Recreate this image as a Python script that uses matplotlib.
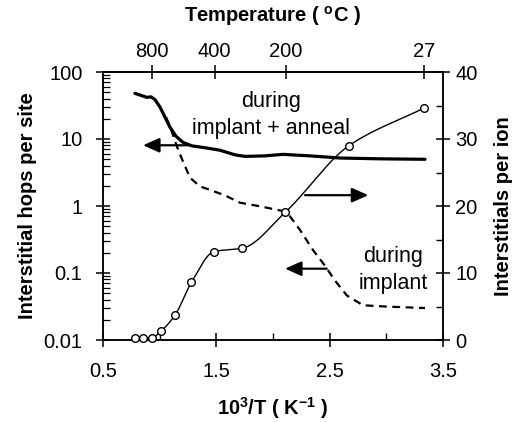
import numpy as np
import matplotlib
matplotlib.use("Agg")
import matplotlib.pyplot as plt
from matplotlib.ticker import FixedLocator, NullFormatter, LogLocator

plt.rcParams['font.family'] = ['Liberation Sans', 'DejaVu Sans']
plt.rcParams['mathtext.fontset'] = 'custom'
plt.rcParams['mathtext.rm'] = 'Liberation Sans'
plt.rcParams['mathtext.bf'] = 'Liberation Sans:bold'
plt.rcParams['mathtext.it'] = 'Liberation Sans:italic'

# ---- data ----
# interstitial hops per site, during implant + anneal (solid, left log axis)
anneal_x = [0.782, 0.888, 0.924, 0.959, 1.003, 1.047, 1.091, 1.144, 1.206, 1.285,
            1.40, 1.532, 1.665, 1.753, 1.929, 2.088, 2.327, 2.591, 2.944, 3.341]
anneal_y = [48, 41.8, 42.6, 38.7, 29.9, 21.2, 15.0, 11.0, 8.9, 7.9,
            7.4, 6.8, 5.8, 5.5, 5.6, 5.9, 5.6, 5.2, 5.06, 4.98]

# interstitial hops per site, during implant only (dashed, left log axis)
implant_x = [1.056, 1.10, 1.15, 1.197, 1.268, 1.356, 1.444, 1.576, 1.709, 1.885,
             2.088, 2.15, 2.238, 2.353, 2.459, 2.547, 2.653, 2.794, 3.006, 3.341]
implant_y = [21.2, 14.0, 7.9, 5.0, 2.64, 1.96, 1.74, 1.44, 1.12, 0.99,
             0.84, 0.70, 0.44, 0.22, 0.128, 0.077, 0.046, 0.033, 0.0315, 0.030]

# interstitials per ion (open circles, right axis)
ion_x = [0.78, 0.85, 0.93, 1.01, 1.135, 1.28, 1.48, 1.73, 2.11, 2.67, 3.33]
ion_y = [0.3, 0.3, 0.3, 1.3, 3.7, 8.6, 13.2, 13.7, 19.1, 29.0, 34.6]

# top axis temperatures (deg C)
top_temps = [800, 400, 200, 27]
top_labels = ['800', '400', '200', '27']

bottom_ticks = [0.5, 1.5, 2.5, 3.5]
bottom_labels = ['0.5', '1.5', '2.5', '3.5']
left_ticks = [0.01, 0.1, 1, 10, 100]
left_labels = ['0.01', '0.1', '1', '10', '100']
right_ticks = [0, 10, 20, 30, 40]
right_labels = ['0', '10', '20', '30', '40']


def pchip(x, y, xn):
    x = np.asarray(x, float); y = np.asarray(y, float)
    h = np.diff(x); d = np.diff(y) / h
    m = np.zeros_like(y)
    for k in range(1, len(x) - 1):
        if d[k - 1] * d[k] > 0:
            w1 = 2 * h[k] + h[k - 1]; w2 = h[k] + 2 * h[k - 1]
            m[k] = (w1 + w2) / (w1 / d[k - 1] + w2 / d[k])
    m[0] = d[0]; m[-1] = d[-1]
    idx = np.clip(np.searchsorted(x, xn) - 1, 0, len(x) - 2)
    t = (xn - x[idx]) / h[idx]
    h00 = 2 * t**3 - 3 * t**2 + 1; h10 = t**3 - 2 * t**2 + t
    h01 = -2 * t**3 + 3 * t**2; h11 = t**3 - t**2
    return h00 * y[idx] + h10 * h[idx] * m[idx] + h01 * y[idx + 1] + h11 * h[idx] * m[idx + 1]


fig = plt.figure(figsize=(5.19, 4.22), dpi=100)
ax = fig.add_axes([103 / 519, 1 - 340 / 422, 340 / 519, 268 / 422])
ax2 = ax.twinx()

ax.set_xlim(0.5, 3.5)
ax.set_yscale('log')
ax.set_ylim(0.01, 100)
ax2.set_ylim(0, 40)

ax.plot(anneal_x, anneal_y, color='black', lw=2.3, solid_capstyle='round', zorder=3)
ax.plot(implant_x, implant_y, color='black', lw=1.6, dashes=(3.5, 2.5), zorder=3)

xs = np.linspace(ion_x[0], ion_x[-1], 400)
ax2.plot(xs, pchip(ion_x, ion_y, xs), color='black', lw=1.0, zorder=3)
ax2.plot(ion_x, ion_y, 'o', ms=5.5, mfc='white', mec='black', mew=1.0, zorder=4,
         clip_on=False)

# ticks
lab_fs = 14.5
ax.set_xticks(bottom_ticks, bottom_labels)
ax.xaxis.set_minor_locator(FixedLocator([1.0, 2.0, 3.0]))
ax.set_yticks(left_ticks, left_labels)
ax.yaxis.set_minor_locator(LogLocator(base=10, subs=np.arange(2, 10)))
ax.yaxis.set_minor_formatter(NullFormatter())
ax.tick_params(axis='x', which='major', direction='inout', length=10.5, width=1.1,
               labelsize=lab_fs, pad=10.5, top=False)
ax.tick_params(axis='x', which='minor', direction='in', length=5, width=1.0, top=False)
ax.tick_params(axis='y', which='major', direction='inout', length=10.5, width=1.1,
               labelsize=lab_fs, pad=9.5)
ax.tick_params(axis='y', which='minor', direction='in', length=5, width=0.9)

ax2.set_yticks(right_ticks, right_labels)
ax2.yaxis.set_minor_locator(FixedLocator([5, 15, 25, 35]))
ax2.tick_params(axis='y', which='major', direction='inout', length=10.5, width=1.1,
                labelsize=lab_fs, pad=3.5)
ax2.tick_params(axis='y', which='minor', direction='in', length=5, width=1.0)

sec = ax.secondary_xaxis('top')
sec.set_xticks([1000.0 / (t + 273.0) for t in top_temps], top_labels)
sec.tick_params(direction='inout', length=10.5, width=1.1, labelsize=lab_fs, pad=3)

for a in (ax, ax2):
    for s in a.spines.values():
        s.set_linewidth(1.1)
sec.spines['top'].set_linewidth(1.1)

# labels
lbl_fs = 14.5
ax.set_ylabel('Interstitial hops per site', fontsize=lbl_fs, fontweight='bold', labelpad=5)
ax2.set_ylabel('Interstitials per ion', fontsize=lbl_fs, fontweight='bold', labelpad=12)
ax.set_xlabel(r'10$^\mathbf{3}$/T ( K$^\mathbf{-1}$ )', fontsize=lbl_fs, fontweight='bold',
              labelpad=10)
sec.set_xlabel(r'Temperature ( $^\mathbf{o}$C )', fontsize=lbl_fs, fontweight='bold',
               labelpad=14)

# annotations
ann_fs = 15.5
ax.text(1.982, 29.6, 'during', ha='center', va='baseline', fontsize=ann_fs)
ax.text(1.982, 11.8, 'implant + anneal', ha='center', va='baseline', fontsize=ann_fs)
ax.text(3.057, 0.144, 'during', ha='center', va='baseline', fontsize=ann_fs)
ax.text(3.057, 0.0574, 'implant', ha='center', va='baseline', fontsize=ann_fs)

ap = dict(arrowstyle='-|>,head_length=0.9,head_width=0.4', mutation_scale=11,
          lw=1.6, color='black', shrinkA=0, shrinkB=0)
ax.annotate('', xy=(0.853, 8.06), xytext=(1.268, 8.06), arrowprops=ap)
ax.annotate('', xy=(2.841, 1.45), xytext=(2.282, 1.45), arrowprops=ap)
ax.annotate('', xy=(2.106, 0.116), xytext=(2.474, 0.116), arrowprops=ap)

fig.savefig('out.png', dpi=100)
